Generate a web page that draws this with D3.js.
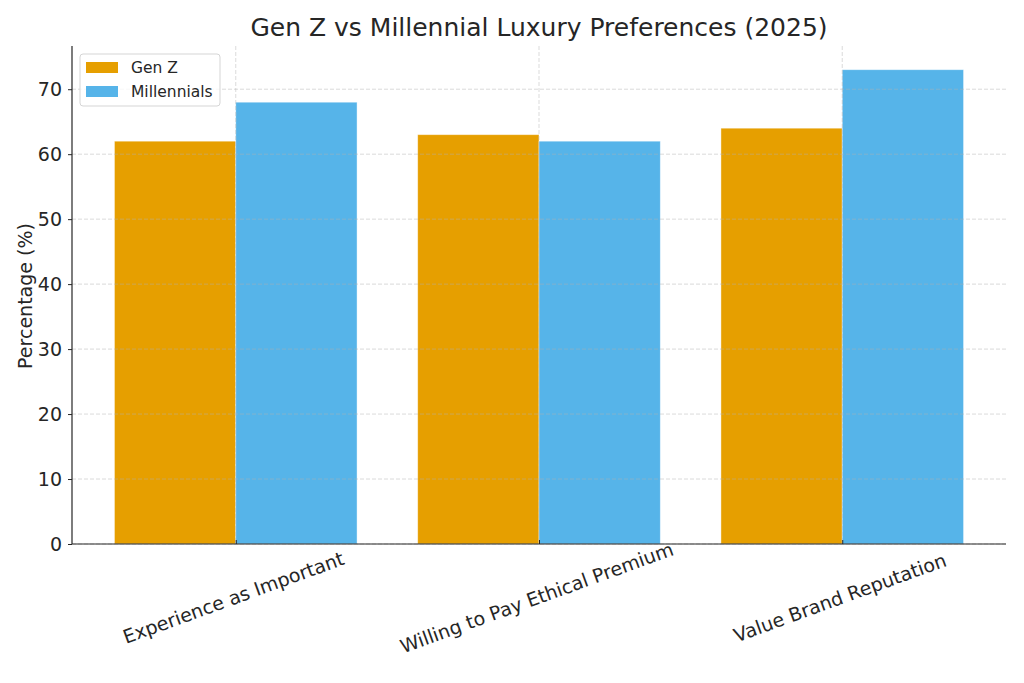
<!DOCTYPE html>
<html>
<head>
   <title>Gen Z vs Millennial Luxury Preferences (2025)</title>
   <script src="https://d3js.org/d3.v7.min.js"></script>
   <style>
      body { margin: 0; background: #fff; }
      text { font-family: "DejaVu Sans", sans-serif; fill: #262626; }
   </style>
</head>
<body>
   <script>
      var categories = ["Experience as Important", "Willing to Pay Ethical Premium", "Value Brand Reputation"]
      var seriesNames = ["Gen Z", "Millennials"]
      var genZ = [62, 63, 64]
      var millennials = [68, 62, 73]
      var yTicks = [0, 10, 20, 30, 40, 50, 60, 70]
      var colors = ["#E69F00", "#56B4E9"]

      var W = 1024, H = 683
      var mLeft = 72, mRight = 1006, mTop = 46, mBottom = 544

      var svg = d3.select("body").append("svg").attr("width", W).attr("height", H)

      // matplotlib-like x: bar centers at 0,1,2, width 0.4 each, 5% margins
      var scaleX = d3.scaleLinear().domain([-0.54, 2.54]).range([mLeft, mRight])
      var scaleY = d3.scaleLinear().domain([0, 76.65]).range([mBottom, mTop])

      var rows = []
      categories.forEach((c, i) => {
         rows.push({ i, s: 0, v: genZ[i] })
         rows.push({ i, s: 1, v: millennials[i] })
      })

      svg.selectAll("rect.bar").data(rows).enter().append("rect")
         .attr("class", "bar")
         .attr("x", d => scaleX(d.i + (d.s === 0 ? -0.4 : 0)))
         .attr("width", d => scaleX(0.4) - scaleX(0))
         .attr("y", d => scaleY(d.v))
         .attr("height", d => scaleY(0) - scaleY(d.v))
         .attr("fill", d => colors[d.s])
         .attr("stroke", "#fff")
         .attr("stroke-opacity", 0.5)
         .attr("stroke-width", 0.8)

      // grid (drawn over bars, faint)
      var grid = svg.append("g").attr("stroke", "#b0b0b0").attr("stroke-opacity", 0.6)
         .attr("stroke-dasharray", "4,2").attr("stroke-width", 0.8)
      grid.selectAll("line.gy").data(yTicks).enter().append("line")
         .attr("x1", mLeft).attr("x2", mRight)
         .attr("y1", d => scaleY(d)).attr("y2", d => scaleY(d))
      grid.selectAll("line.gx").data(categories).enter().append("line")
         .attr("x1", (d, i) => scaleX(i)).attr("x2", (d, i) => scaleX(i))
         .attr("y1", mTop).attr("y2", mBottom)

      var axisY = d3.axisLeft(scaleY).tickValues(yTicks).tickSize(4).tickPadding(6)
      var gy = svg.append("g").attr("transform", `translate(${mLeft},0)`).call(axisY)
      gy.select(".domain").attr("d", `M0,${mTop}V${mBottom}`).attr("stroke", "#262626").attr("stroke-width", 1.2)
      gy.selectAll(".tick line").attr("stroke", "#262626")
      gy.selectAll(".tick text").attr("font-size", 19).attr("font-family", "DejaVu Sans").attr("fill", "#262626")

      var axisX = d3.axisBottom(scaleX).tickValues([0, 1, 2]).tickSize(4).tickFormat(d => "")
      var gx = svg.append("g").attr("transform", `translate(0,${mBottom})`).call(axisX)
      gx.select(".domain").attr("d", `M${mLeft},0H${mRight}`).attr("stroke", "#262626").attr("stroke-width", 1.2)
      gx.selectAll(".tick line").attr("stroke", "#262626").attr("y1", -4).attr("y2", 0)

      svg.selectAll("text.xl").data(categories).enter().append("text")
         .attr("class", "xl")
         .attr("text-anchor", "middle")
         .attr("font-size", 19)
         .attr("transform", (d, i) => `translate(${scaleX(i)},${mBottom + 60}) rotate(-20)`)
         .text(d => d)

      svg.append("text").attr("text-anchor", "middle").attr("font-size", 19)
         .attr("transform", `translate(32,${(mTop + mBottom) / 2 + 1}) rotate(-90)`)
         .text("Percentage (%)")

      svg.append("text").attr("x", (mLeft + mRight) / 2 + 0).attr("y", 36)
         .attr("text-anchor", "middle").attr("font-size", 25)
         .text("Gen Z vs Millennial Luxury Preferences (2025)")

      // legend
      var lg = svg.append("g").attr("transform", "translate(80,54)")
      lg.append("rect").attr("width", 140).attr("height", 52).attr("rx", 3)
         .attr("fill", "#fff").attr("fill-opacity", 0.8).attr("stroke", "#d5d5d5")
      seriesNames.forEach((n, k) => {
         lg.append("rect").attr("x", 6).attr("y", 8 + k * 24).attr("width", 32).attr("height", 11).attr("fill", colors[k])
         lg.append("text").attr("x", 51).attr("y", 19 + k * 24).attr("font-size", 15.5).text(n)
      })
   </script>
</body>
</html>
